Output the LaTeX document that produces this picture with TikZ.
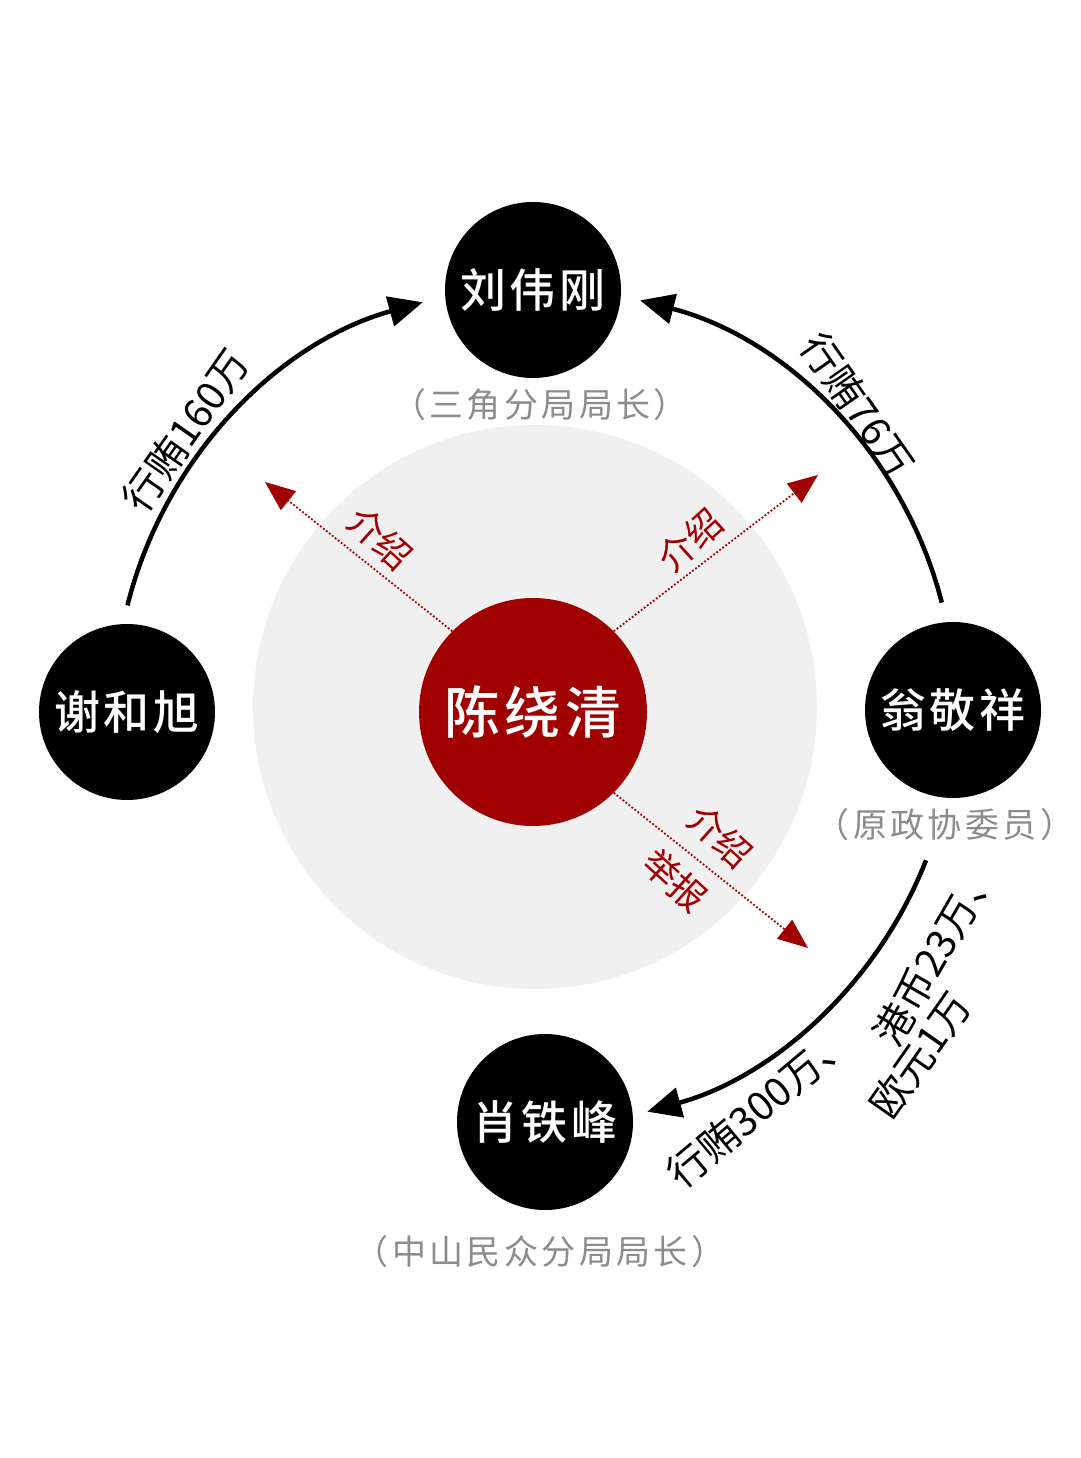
\documentclass[tikz,border=0pt]{standalone}
\usepackage{fontspec}
\setmainfont{Noto Sans CJK SC}
\newfontfamily\cjkb{Noto Sans CJK SC Medium}[LetterSpace=8]
\newfontfamily\cjkr{Noto Sans CJK SC}[LetterSpace=10]
\usetikzlibrary{arrows.meta}
\definecolor{dred}{HTML}{A00000}
\tikzset{
 person/.style={circle,fill=black,minimum size=176pt,inner sep=0pt,text=white,font=\cjkb\fontsize{46}{46}\selectfont},
 role/.style={text=gray!90,font=\cjkr\fontsize{34}{34}\selectfont},
 money/.style={font=\fontsize{40}{40}\selectfont},
 flow/.style={line width=4.5pt,-{Triangle[length=34pt,width=30pt]}},
 intro/.style={dred,dotted,line width=1.8pt,-{Triangle[length=30pt,width=24pt]}},
 introlbl/.style={text=dred,font=\fontsize{36}{36}\selectfont}
}
\begin{document}
\begin{tikzpicture}[x=1pt,y=1pt]
\useasboundingbox (0,0) rectangle (1080,1458);
\fill[white] (0,0) rectangle (1080,1458);
\fill[gray!12] (535,751) circle (282);
\node[person] (liu) at (533,1168) {刘伟刚};
\node[person] (xie) at (127,746) {谢和旭};
\node[person] (weng) at (953,748) {翁敬祥};
\node[person] (xiao) at (545,336) {肖铁峰};
\node[circle,fill=dred,minimum size=228pt,inner sep=0pt,text=white,font=\cjkb\fontsize{56}{56}\selectfont] (chen) at (533,746) {陈绕清};
\node[role] (r1) at (540,1053) {（三角分局局长）};
\node[role] (r2) at (945,633) {（原政协委员）};
\node[role] (r3) at (540,206) {（中山民众分局局长）};
\draw[flow] ([shift={(166:420)}]535,751) arc (166:105.5:420);
\draw[flow] ([shift={(14.4:420)}]535,751) arc (14.4:75.5:420);
\draw[flow] ([shift={(-21.4:420)}]535,751) arc (-21.4:-74.5:420);
\node[money,rotate=55] (m1) at (186,1028) {行贿160万};
\node[money,rotate=-55] (m2) at (858,1053) {行贿76万};
\node[money,rotate=40] (m3) at (760,352) {行贿300万、};
\node[money,rotate=60] (m4) at (935,505) {港币23万、};
\node[money,rotate=55] (m5) at (920,403) {欧元1万};
\coordinate (a1) at (265,976);
\coordinate (a2) at (818,983);
\coordinate (a3) at (808,510);
\draw[intro] (chen.135) -- (a1);
\draw[intro] (chen.45) -- (a2);
\draw[intro] (chen.-45) -- (a3);
\node[introlbl,rotate=-42] (l1) at (380,920) {介绍};
\node[introlbl,rotate=42] (l2) at (690,918) {介绍};
\node[introlbl,rotate=-42] (l3) at (720,622) {介绍};
\node[introlbl,rotate=-42] (l4) at (675,578) {举报};
\end{tikzpicture}
\end{document}
